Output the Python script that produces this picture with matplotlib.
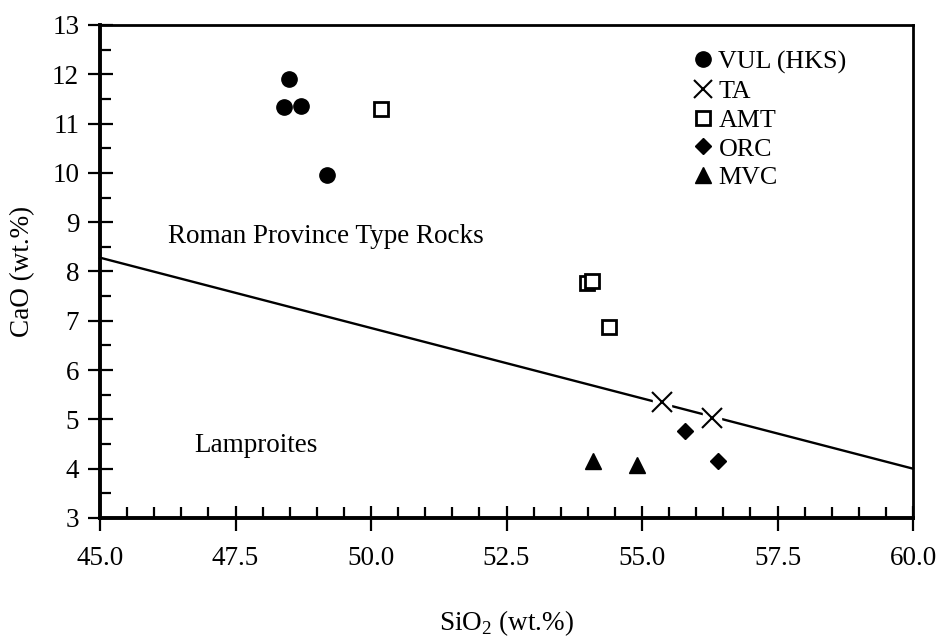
import numpy as np
import matplotlib
matplotlib.use('Agg')
import matplotlib.pyplot as plt
from matplotlib.ticker import MultipleLocator, FormatStrFormatter
from matplotlib.lines import Line2D

plt.rcParams['font.family'] = ['Liberation Serif', 'DejaVu Serif']
plt.rcParams['mathtext.fontset'] = 'custom'
plt.rcParams['mathtext.rm'] = 'Liberation Serif'

# data
vul_x = [48.48, 48.39, 48.70, 49.18]
vul_y = [11.90, 11.34, 11.36, 9.96]
ta_x = [55.37, 56.29]
ta_y = [5.35, 5.03]
amt_x = [50.19, 53.99, 54.08, 54.39]
amt_y = [11.30, 7.77, 7.80, 6.87]
orc_x = [55.79, 56.40]
orc_y = [4.76, 4.15]
mvc_x = [54.10, 54.91]
mvc_y = [4.16, 4.07]
line_x = [45.0, 60.0]
line_y = [8.28, 4.0]

fs = 19.5

fig = plt.figure(figsize=(9.4, 6.39), dpi=100)
ax = fig.add_axes([0.1064, 0.1894, 0.8649, 0.7715])

ax.plot(line_x, line_y, color='black', lw=1.7, zorder=2, clip_on=False)

# white patches behind the crosses break the line like in the original
ax.plot(ta_x, ta_y, 's', ms=13, color='white', mec='white', zorder=3)
ax.plot(vul_x, vul_y, 'o', ms=11, color='black', zorder=4)
ax.plot(ta_x, ta_y, 'x', ms=15, mew=1.5, color='black', zorder=4)
ax.plot(amt_x, amt_y, 's', ms=10, mfc='white', mec='black', mew=2, zorder=4)
ax.plot(orc_x, orc_y, 'D', ms=8, color='black', zorder=4)
ax.plot(mvc_x, mvc_y, '^', ms=12, color='black', zorder=4)

ax.text(46.25, 8.70, 'Roman Province Type Rocks', fontsize=fs, va='center')
ax.text(46.73, 4.48, 'Lamproites', fontsize=fs, va='center')

ax.set_xlim(45, 60)
ax.set_ylim(3, 13)
ax.xaxis.set_major_locator(MultipleLocator(2.5))
ax.xaxis.set_minor_locator(MultipleLocator(0.5))
ax.xaxis.set_major_formatter(FormatStrFormatter('%.1f'))
ax.yaxis.set_major_locator(MultipleLocator(1))
ax.yaxis.set_minor_locator(MultipleLocator(0.5))

ax.tick_params(which='major', direction='inout', length=18, width=1.6,
               labelsize=fs)
ax.tick_params(which='minor', direction='in', length=8, width=1.6)
ax.tick_params(axis='x', which='major', pad=11)
ax.tick_params(axis='y', which='major', pad=6)

for s in ['left', 'bottom']:
    ax.spines[s].set_linewidth(2.8)
for s in ['top', 'right']:
    ax.spines[s].set_linewidth(2.0)

ax.set_xlabel('SiO$_2$ (wt.%)', fontsize=fs, labelpad=27)
ax.set_ylabel('CaO (wt.%)', fontsize=fs, labelpad=12)

handles = [
    Line2D([], [], ls='', marker='o', ms=11, color='black'),
    Line2D([], [], ls='', marker='x', ms=13, mew=1.5, color='black'),
    Line2D([], [], ls='', marker='s', ms=10, mfc='white', mec='black', mew=2),
    Line2D([], [], ls='', marker='D', ms=8, color='black'),
    Line2D([], [], ls='', marker='^', ms=11, color='black'),
]
labels = ['VUL (HKS)', 'TA', 'AMT', 'ORC', 'MVC']
ax.legend(handles, labels, loc='upper left', bbox_to_anchor=(0.716, 0.975),
          frameon=False, fontsize=18.7, handlelength=0.6, handletextpad=0.3,
          labelspacing=0.22, borderpad=0)

fig.savefig('out.png', dpi=100)
